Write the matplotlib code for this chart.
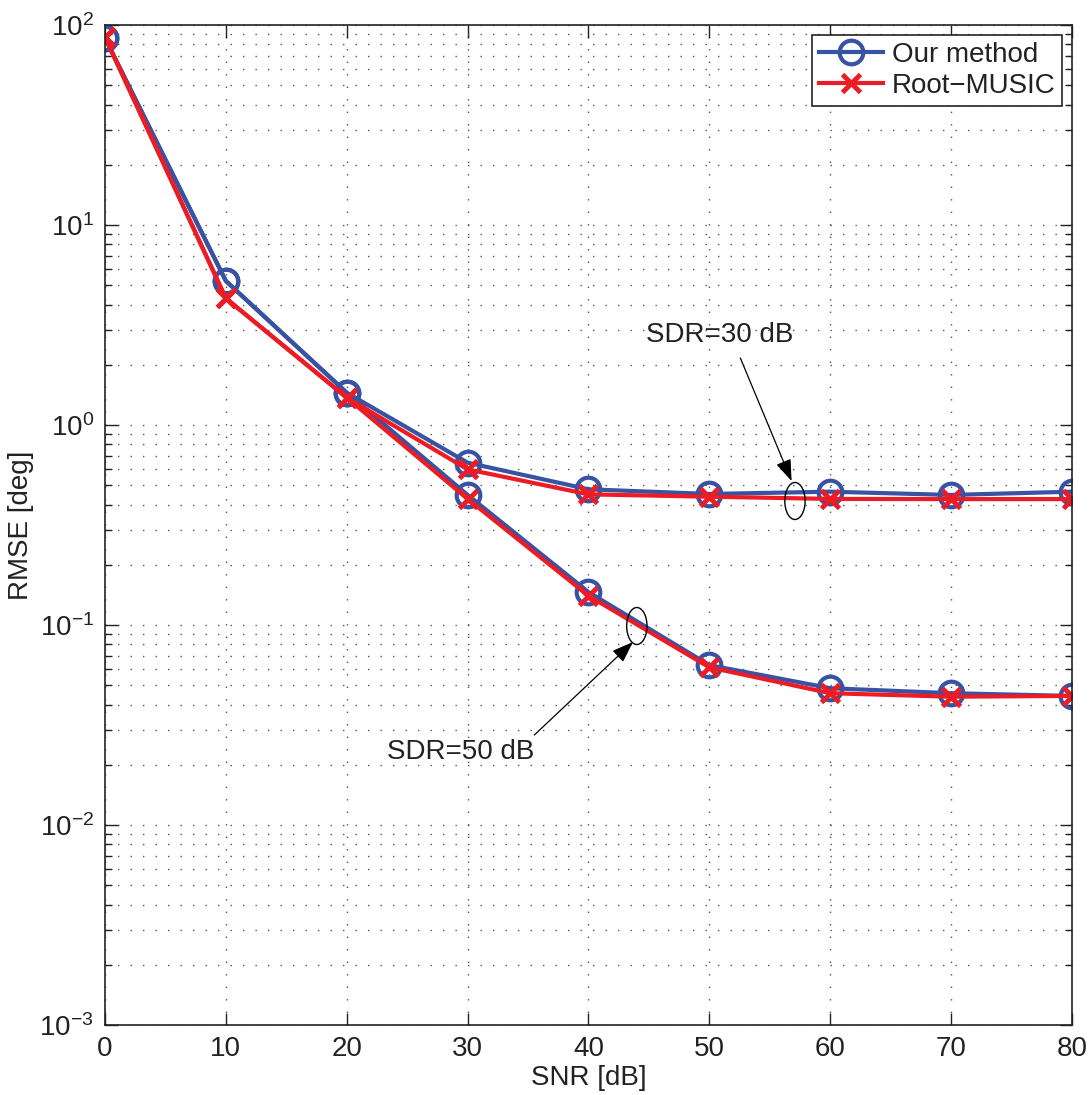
import matplotlib
matplotlib.use('Agg')
import matplotlib.pyplot as plt
from matplotlib.patches import Ellipse
from matplotlib.ticker import LogLocator, NullFormatter
import numpy as np

plt.rcParams['font.family'] = ['Liberation Sans', 'DejaVu Sans']
plt.rcParams['mathtext.fontset'] = 'custom'
plt.rcParams['mathtext.rm'] = 'Liberation Sans'

# SNR sweep [dB]
snr = [0, 10, 20, 30, 40, 50, 60, 70, 80]

# RMSE [deg], SDR = 30 dB
ours_sdr30 = [86, 5.25, 1.45, 0.648, 0.477, 0.452, 0.464, 0.447, 0.464]
music_sdr30 = [87, 4.3, 1.37, 0.60, 0.45, 0.438, 0.427, 0.426, 0.426]

# RMSE [deg], SDR = 50 dB
ours_sdr50 = [86, 5.25, 1.45, 0.447, 0.146, 0.063, 0.0483, 0.0456, 0.0442]
music_sdr50 = [87, 4.3, 1.37, 0.427, 0.140, 0.0614, 0.0456, 0.0438, 0.0442]

BLUE = '#3953a4'
RED = '#ed1c24'
INK = '#222222'

fig = plt.figure(figsize=(10.9, 10.95), dpi=100)
ax = fig.add_axes([0.0963, 0.0639, 0.8872, 0.9133])

style_o = dict(color=BLUE, lw=3, marker='o', ms=17, mfc='none', mew=3)
style_x = dict(color=RED, lw=3, marker='x', ms=13, mew=3.5)

ax.semilogy(snr, ours_sdr30, label='Our method', **style_o)
ax.semilogy(snr, ours_sdr50, **style_o)
ax.semilogy(snr, music_sdr30, label='Root\u2212MUSIC', **style_x)
ax.semilogy(snr, music_sdr50, **style_x)

ax.set_xlim(0, 80)
ax.set_ylim(1e-3, 1e2)
ax.set_xticks(snr)
ax.yaxis.set_major_locator(LogLocator(base=10, numticks=10))
ax.yaxis.set_minor_locator(LogLocator(base=10, subs=np.arange(2, 10), numticks=50))
ax.yaxis.set_minor_formatter(NullFormatter())

grid_ls = (0, (1, 8))
ax.grid(True, which='major', axis='both', color='#555555', ls=grid_ls, lw=1)
ax.grid(True, which='minor', axis='y', color='#555555', ls=grid_ls, lw=1)

ax.tick_params(which='both', direction='in', top=True, right=True,
               labelsize=20, width=1, colors=INK)
ax.tick_params(which='major', length=9, pad=8)
ax.tick_params(which='minor', length=5)
for sp in ax.spines.values():
    sp.set_linewidth(1.2)
    sp.set_color(INK)

ax.set_xlabel('SNR [dB]', fontsize=20, labelpad=2, color=INK)
ax.set_ylabel('RMSE [deg]', fontsize=20, labelpad=4, color=INK)

leg = ax.legend(loc='upper right', fontsize=20, fancybox=False,
                edgecolor=INK, framealpha=1, handlelength=2.3,
                borderaxespad=0.35, borderpad=0.25, labelspacing=0.2,
                handletextpad=0.3)
leg.get_frame().set_linewidth(1.2)
for t in leg.get_texts():
    t.set_color(INK)

# group markers and their callouts
ax.add_patch(Ellipse((0.7135, 0.524), 0.021, 0.037, transform=ax.transAxes,
                     fill=False, ec='k', lw=1, zorder=5))
ax.add_patch(Ellipse((0.550, 0.399), 0.021, 0.037, transform=ax.transAxes,
                     fill=False, ec='k', lw=1, zorder=5))

arrow = dict(arrowstyle='-|>,head_length=1.1,head_width=0.4', color='k',
             lw=0.9, shrinkA=0, shrinkB=0, mutation_scale=12)
ax.annotate('', xy=(0.710, 0.544), xytext=(0.657, 0.667),
            xycoords='axes fraction', arrowprops=arrow)
ax.annotate('', xy=(0.546, 0.383), xytext=(0.444, 0.290),
            xycoords='axes fraction', arrowprops=arrow)
ax.text(0.636, 0.690, 'SDR=30 dB', transform=ax.transAxes, fontsize=20,
        ha='center', va='center', color=INK)
ax.text(0.368, 0.273, 'SDR=50 dB', transform=ax.transAxes, fontsize=20,
        ha='center', va='center', color=INK)

fig.savefig('out.png', dpi=100)
